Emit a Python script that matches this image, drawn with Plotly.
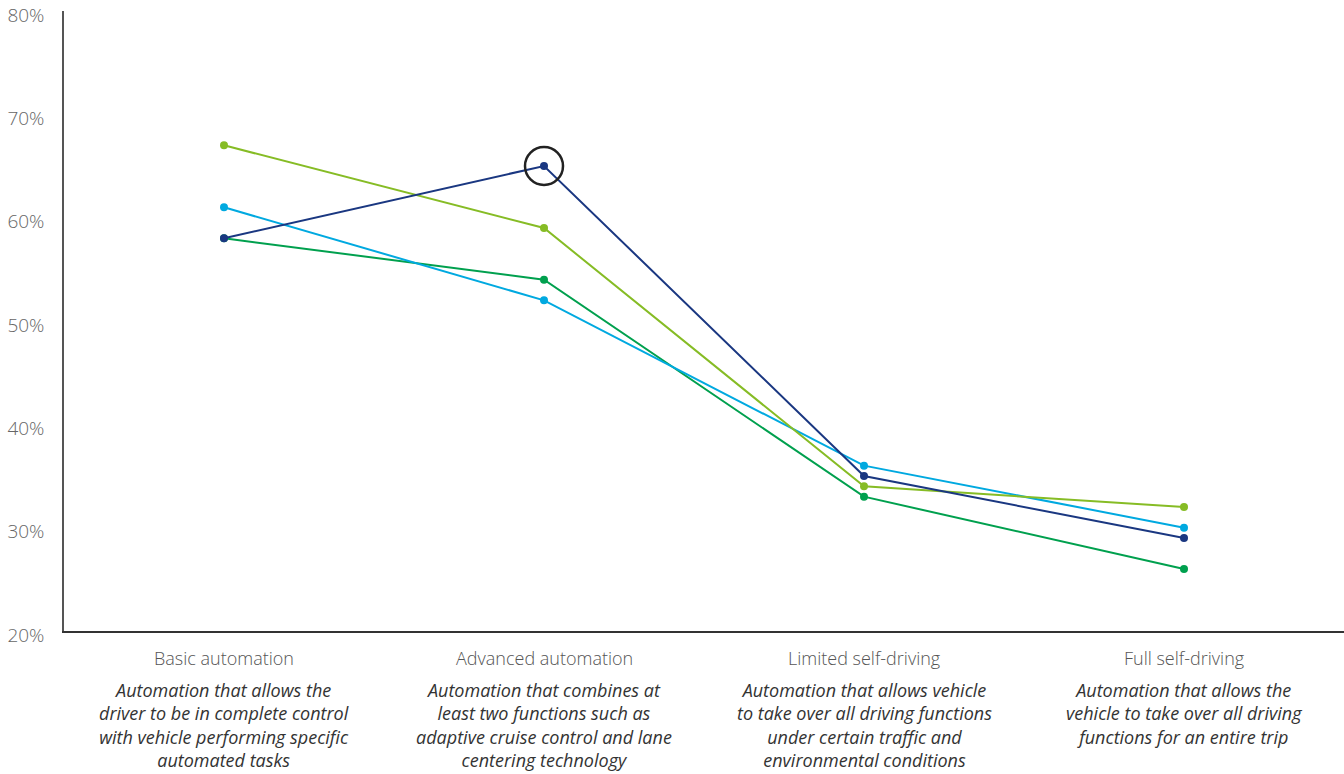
import plotly.graph_objects as go

# Automation levels (x categories) and their descriptions
levels = ["Basic automation", "Advanced automation", "Limited self-driving", "Full self-driving"]
descriptions = [
    "Automation that allows the<br>driver to be in complete control<br>with vehicle performing specific<br>automated tasks",
    "Automation that combines at<br>least two functions such as<br>adaptive cruise control and lane<br>centering technology",
    "Automation that allows vehicle<br>to take over all driving functions<br>under certain traffic and<br>environmental conditions",
    "Automation that allows the<br>vehicle to take over all driving<br>functions for an entire trip",
]

# Share of respondents (%) per series
series_green = [58, 54, 33, 26]
series_lightblue = [61, 52, 36, 30]
series_lightgreen = [67, 59, 34, 32]
series_navy = [58, 65, 35, 29]

y_ticks = [20, 30, 40, 50, 60, 70, 80]
y_tick_labels = ["20%", "30%", "40%", "50%", "60%", "70%", "80%"]

FONT = "Open Sans"
x_idx = list(range(len(levels)))

fig = go.Figure()

for vals, color in [
    (series_green, "#00a04e"),
    (series_lightblue, "#00a9e0"),
    (series_lightgreen, "#86bc25"),
    (series_navy, "#1a3781"),
]:
    fig.add_trace(go.Scatter(
        x=x_idx, y=vals, mode="lines+markers",
        line=dict(color=color, width=2),
        marker=dict(color=color, size=8),
        showlegend=False, hoverinfo="skip",
    ))

# Highlight ring around the navy peak
fig.add_trace(go.Scatter(
    x=[x_idx[1]], y=[series_navy[1]], mode="markers",
    marker=dict(symbol="circle-open", size=38, color="#222222",
                line=dict(color="#222222", width=2.5)),
    showlegend=False, hoverinfo="skip",
))

annotations = []
for i, (name, desc) in enumerate(zip(levels, descriptions)):
    annotations.append(dict(
        x=i, y=0, xref="x", yref="paper", xanchor="center", yanchor="top",
        text=name, showarrow=False, yshift=-13,
        font=dict(family=FONT, size=18, color="#555555", weight=300),
    ))
    annotations.append(dict(
        x=i, y=0, xref="x", yref="paper", xanchor="center", yanchor="top",
        text="<i>" + desc + "</i>", showarrow=False, yshift=-45, align="center",
        font=dict(family=FONT, size=18, color="#333333"),
    ))

fig.update_layout(
    width=1344, height=774,
    margin=dict(l=64, r=0, t=11, b=143),
    plot_bgcolor="white", paper_bgcolor="white",
    font=dict(family=FONT),
    xaxis=dict(
        range=[-0.5, 3.5], showticklabels=False, showgrid=False, zeroline=False,
        showline=True, linecolor="#333333", linewidth=1.5, ticks="",
    ),
    yaxis=dict(
        range=[20, 80], tickvals=y_ticks, ticktext=y_tick_labels,
        showgrid=False, zeroline=False, showline=True, linecolor="#555555", linewidth=1.5,
        ticks="", ticklabelstandoff=14, ticklabelshift=4, ticklabeloverflow="allow",
        tickfont=dict(family=FONT, size=19, color="#666666", weight=300),
    ),
    annotations=annotations,
)

fig.write_html("out.html")
